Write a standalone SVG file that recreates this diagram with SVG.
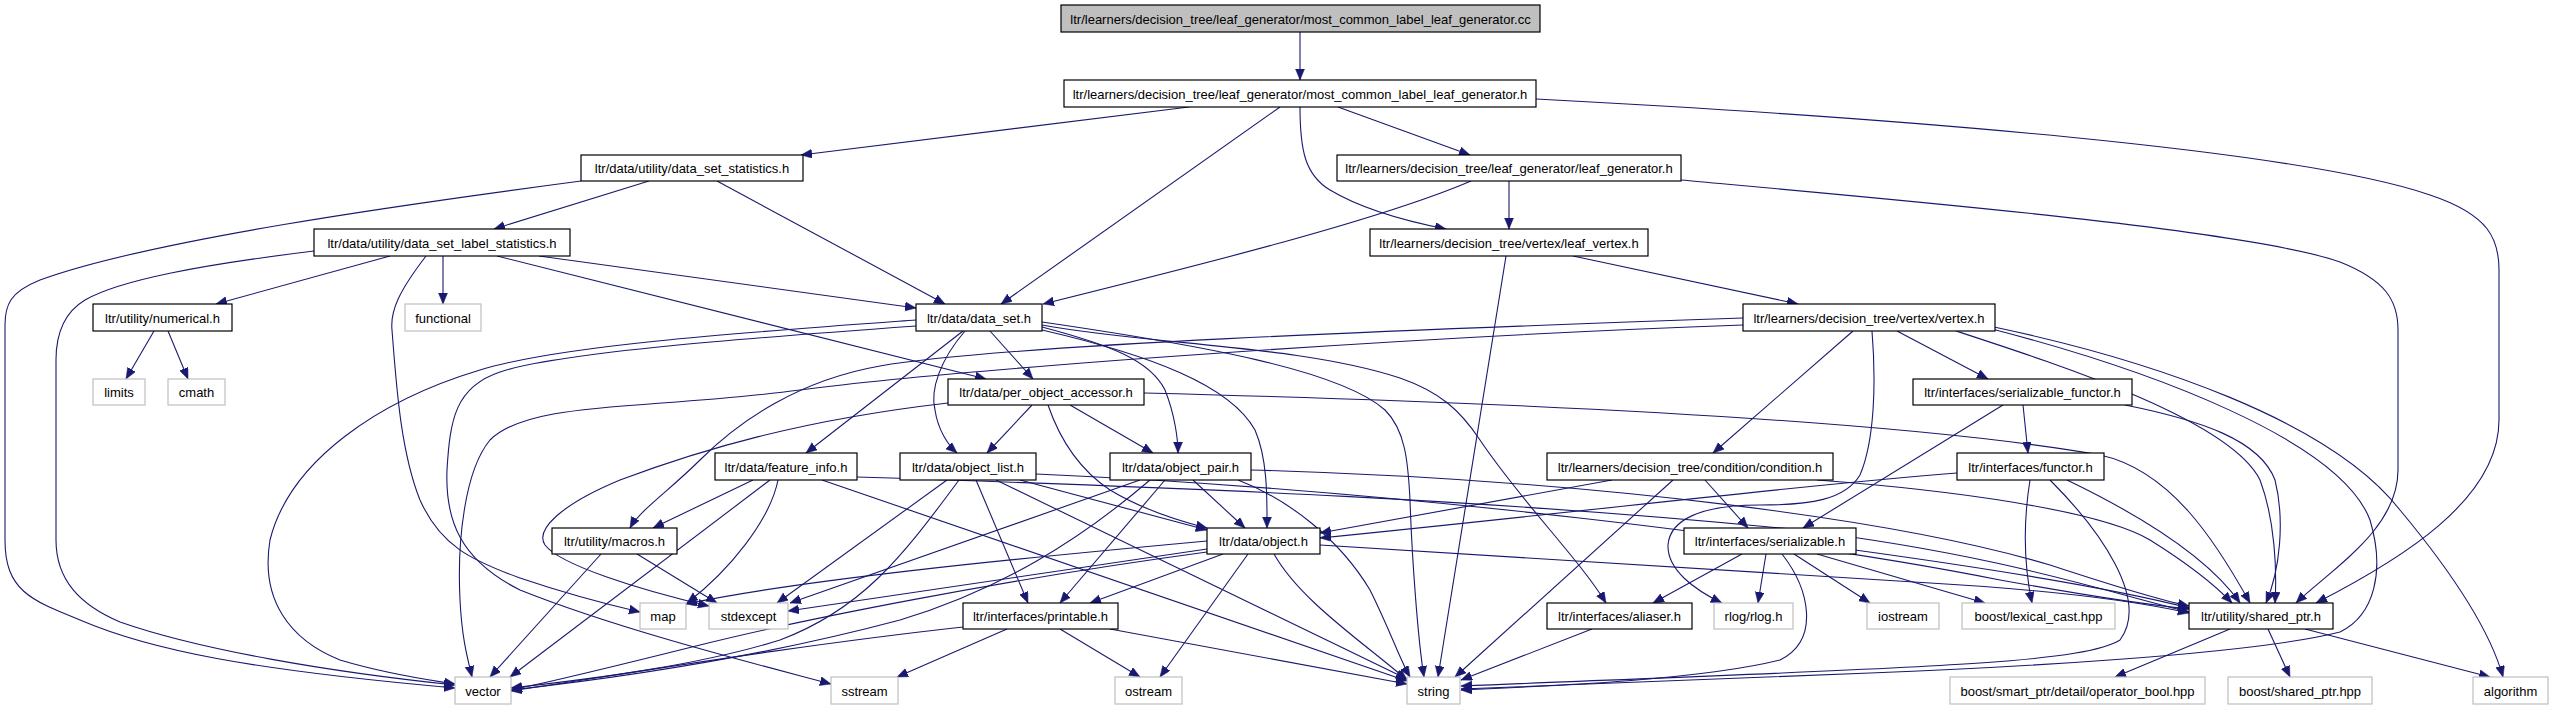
<svg xmlns="http://www.w3.org/2000/svg" width="2553" height="709" viewBox="0 0 2553 709">
<style>
.n rect{fill:#fff;stroke:#000;stroke-width:1.2}
.x rect{fill:#fff;stroke:#bfbfbf;stroke-width:1.2}
.r rect{fill:#bfbfbf;stroke:#000;stroke-width:1.2}
text{font-family:"Liberation Sans",Arial,sans-serif;font-size:13px;text-anchor:middle;fill:#000}
#edges path{fill:none;stroke:#191970;stroke-width:1.1;marker-end:url(#arr)}
</style>
<defs>
<marker id="arr" markerUnits="userSpaceOnUse" markerWidth="12" markerHeight="10" refX="11" refY="4.5" orient="auto"><path d="M0,0 L11,4.5 L0,9 z" fill="#191970" stroke="#191970" stroke-width="0.5"/></marker>
</defs>
<rect width="2553" height="709" fill="#fff"/>
<g id="edges">
<path d="M1300,32 L1300,80"/>
<path d="M1189,107 L801,155"/>
<path d="M1280,107 L1001,304"/>
<path d="M1338,107 L1470,155"/>
<path d="M1300,107 C1300,150 1305,175 1330,190 C1360,208 1400,220 1446,229"/>
<path d="M1536,99 C1900,118 2300,150 2430,195 C2490,215 2499,240 2499,270 L2499,420 C2499,500 2400,560 2316,603"/>
<path d="M649,181 L494,229"/>
<path d="M717,181 L945,304"/>
<path d="M581,181 C400,205 150,240 40,280 C10,292 5,305 5,325 L5,540 C5,590 30,600 80,620 C150,650 250,670 455,688"/>
<path d="M1471,181 C1380,220 1200,265 1043,304"/>
<path d="M1509,181 L1509,229"/>
<path d="M1681,180 C1900,200 2250,230 2340,262 C2385,280 2398,300 2398,330 L2398,470 C2398,530 2330,570 2296,603"/>
<path d="M390,256 L216,304"/>
<path d="M443,256 L443,304"/>
<path d="M539,256 L916,308"/>
<path d="M497,256 L986,379"/>
<path d="M426,256 C400,290 390,310 392,330 C396,380 400,450 420,500 C440,545 470,560 520,578 C570,595 610,605 640,612"/>
<path d="M314,251 C200,265 120,280 85,300 C60,315 56,340 56,360 L56,540 C56,580 80,605 120,622 C200,650 330,672 455,685"/>
<path d="M1573,256 L1798,304"/>
<path d="M1506,256 L1438,677"/>
<path d="M154,331 L126,379"/>
<path d="M168,331 L188,379"/>
<path d="M990,331 L1033,379"/>
<path d="M963,331 L806,453"/>
<path d="M965,331 C940,360 930,390 935,410 C938,430 948,445 957,453"/>
<path d="M1042,327 C1110,345 1150,360 1165,390 C1175,415 1178,440 1178,453"/>
<path d="M1042,330 C1150,355 1230,385 1255,430 C1268,460 1267,500 1267,528"/>
<path d="M1042,322 C1200,345 1340,370 1385,410 C1405,430 1408,460 1410,500 C1412,560 1418,640 1424,677"/>
<path d="M1042,325 C1150,345 1300,345 1400,378 C1440,392 1460,410 1480,440 C1520,500 1580,560 1606,603"/>
<path d="M916,320 C750,332 560,345 480,370 C380,400 290,460 270,540 C260,600 290,640 340,660 C390,675 430,680 455,684"/>
<path d="M916,326 C750,338 560,352 500,372 C455,387 450,420 447,470 C445,520 460,560 520,590 C620,630 760,665 831,684"/>
<path d="M1743,318 C1400,330 1000,345 880,366 C800,380 740,420 700,460 C670,490 640,510 630,528"/>
<path d="M1743,325 C1400,337 950,370 800,390 C650,410 530,400 490,440 C465,470 457,540 460,600 C462,640 468,660 472,677"/>
<path d="M1853,331 L1713,453"/>
<path d="M1897,331 L1988,379"/>
<path d="M1872,331 C1876,380 1875,440 1860,475 C1845,500 1810,505 1760,505 C1700,505 1670,520 1668,545 C1667,570 1695,590 1722,603"/>
<path d="M1956,331 C2060,365 2230,420 2260,480 C2275,520 2277,570 2275,603"/>
<path d="M1992,329 C2150,370 2340,440 2370,520 C2385,570 2375,615 2340,632 C2250,655 2000,668 1870,673 L1461,689"/>
<path d="M1994,327 C2150,360 2330,420 2400,510 C2450,570 2490,630 2503,677"/>
<path d="M948,403 C800,420 700,450 620,480 C560,505 535,530 545,545 C560,565 640,590 709,606"/>
<path d="M1032,405 L987,453"/>
<path d="M1070,405 L1153,453"/>
<path d="M1048,405 C1060,440 1080,470 1110,490 C1140,508 1175,520 1207,528"/>
<path d="M1144,393 C1500,402 1900,420 2100,455 C2170,470 2215,540 2250,603"/>
<path d="M753,480 L653,528"/>
<path d="M778,480 C770,520 730,570 687,603"/>
<path d="M770,480 L510,677"/>
<path d="M822,480 L1407,681"/>
<path d="M857,477 C1200,488 1500,500 1800,530 C2000,555 2100,590 2189,612"/>
<path d="M947,480 L777,603"/>
<path d="M959,480 C900,560 860,610 780,640 C700,665 600,678 511,688"/>
<path d="M976,480 L1028,603"/>
<path d="M1020,480 L1207,530"/>
<path d="M996,480 L1407,679"/>
<path d="M1036,474 C1400,490 1800,540 2000,580 C2100,598 2150,605 2189,609"/>
<path d="M1193,480 L1245,528"/>
<path d="M1165,480 L1060,603"/>
<path d="M1140,480 L790,603"/>
<path d="M1150,480 C1080,540 1000,590 900,620 C750,660 600,680 511,690"/>
<path d="M1238,480 C1290,500 1340,540 1370,590 C1390,630 1400,660 1410,677"/>
<path d="M1251,470 C1600,480 1900,520 2050,565 C2120,588 2160,600 2189,606"/>
<path d="M1612,480 L1320,533"/>
<path d="M1673,480 L1455,677"/>
<path d="M1705,480 L1748,528"/>
<path d="M1817,480 C1950,490 2100,510 2150,540 C2190,565 2215,585 2232,603"/>
<path d="M1957,473 C1800,485 1600,510 1320,538"/>
<path d="M2030,480 C2022,530 2025,570 2032,603"/>
<path d="M2050,480 C2100,530 2150,600 2120,640 C2080,665 1900,668 1461,686"/>
<path d="M2067,480 C2150,520 2210,560 2240,603"/>
<path d="M2023,405 L2028,453"/>
<path d="M2003,405 L1803,528"/>
<path d="M2125,405 C2200,420 2260,440 2275,480 C2285,520 2280,570 2266,603"/>
<path d="M1223,554 L1090,603"/>
<path d="M1248,554 L1160,677"/>
<path d="M1274,554 C1300,600 1360,640 1407,680"/>
<path d="M1320,545 L1930,583 C2050,590 2130,600 2189,613"/>
<path d="M1207,549 L788,611"/>
<path d="M1207,541 C1000,560 800,580 686,604"/>
<path d="M1207,552 C1000,580 800,620 700,645 C620,665 560,680 511,690"/>
<path d="M1007,629 L897,677"/>
<path d="M1060,629 L1140,677"/>
<path d="M1110,629 L1407,684"/>
<path d="M963,627 C800,645 650,670 511,691"/>
<path d="M1742,554 L1653,603"/>
<path d="M1766,554 L1758,603"/>
<path d="M1782,554 C1810,590 1820,640 1780,660 C1700,680 1550,686 1461,690"/>
<path d="M1794,554 L1870,603"/>
<path d="M1817,554 L1985,603"/>
<path d="M1855,550 C2000,570 2120,590 2189,608"/>
<path d="M1592,629 L1461,680"/>
<path d="M601,554 L490,677"/>
<path d="M637,554 L717,603"/>
<path d="M2230,629 L2115,677"/>
<path d="M2268,629 L2290,677"/>
<path d="M2305,629 L2490,677"/>
</g>
<g id="n_cc" class="r"><rect x="1061" y="5" width="479" height="27"/><text x="1300.5" y="23.5">ltr/learners/decision_tree/leaf_generator/most_common_label_leaf_generator.cc</text></g>
<g id="n_mcl" class="n"><rect x="1064" y="80" width="472" height="27"/><text x="1300" y="98.5">ltr/learners/decision_tree/leaf_generator/most_common_label_leaf_generator.h</text></g>
<g id="n_dss" class="n"><rect x="581" y="155" width="222" height="26"/><text x="692" y="173">ltr/data/utility/data_set_statistics.h</text></g>
<g id="n_lg" class="n"><rect x="1337" y="155" width="344" height="26"/><text x="1509" y="173">ltr/learners/decision_tree/leaf_generator/leaf_generator.h</text></g>
<g id="n_dsls" class="n"><rect x="314" y="229" width="256" height="27"/><text x="442" y="247.5">ltr/data/utility/data_set_label_statistics.h</text></g>
<g id="n_lv" class="n"><rect x="1370" y="229" width="278" height="27"/><text x="1509" y="247.5">ltr/learners/decision_tree/vertex/leaf_vertex.h</text></g>
<g id="n_num" class="n"><rect x="93" y="304" width="139" height="27"/><text x="162.5" y="322.5">ltr/utility/numerical.h</text></g>
<g id="n_functional" class="x"><rect x="405" y="304" width="76" height="27"/><text x="443" y="322.5">functional</text></g>
<g id="n_ds" class="n"><rect x="916" y="304" width="126" height="27"/><text x="979" y="322.5">ltr/data/data_set.h</text></g>
<g id="n_vertex" class="n"><rect x="1743" y="304" width="252" height="27"/><text x="1869" y="322.5">ltr/learners/decision_tree/vertex/vertex.h</text></g>
<g id="n_limits" class="x"><rect x="93" y="379" width="52" height="26"/><text x="119" y="397">limits</text></g>
<g id="n_cmath" class="x"><rect x="168" y="379" width="57" height="26"/><text x="196.5" y="397">cmath</text></g>
<g id="n_poa" class="n"><rect x="948" y="379" width="196" height="26"/><text x="1046" y="397">ltr/data/per_object_accessor.h</text></g>
<g id="n_sf" class="n"><rect x="1913" y="379" width="219" height="26"/><text x="2022.5" y="397">ltr/interfaces/serializable_functor.h</text></g>
<g id="n_fi" class="n"><rect x="715" y="453" width="142" height="27"/><text x="786" y="471.5">ltr/data/feature_info.h</text></g>
<g id="n_ol" class="n"><rect x="900" y="453" width="136" height="27"/><text x="968" y="471.5">ltr/data/object_list.h</text></g>
<g id="n_op" class="n"><rect x="1110" y="453" width="141" height="27"/><text x="1180.5" y="471.5">ltr/data/object_pair.h</text></g>
<g id="n_cond" class="n"><rect x="1547" y="453" width="286" height="27"/><text x="1690" y="471.5">ltr/learners/decision_tree/condition/condition.h</text></g>
<g id="n_functor" class="n"><rect x="1957" y="453" width="147" height="27"/><text x="2030.5" y="471.5">ltr/interfaces/functor.h</text></g>
<g id="n_macros" class="n"><rect x="552" y="528" width="125" height="26"/><text x="614.5" y="546">ltr/utility/macros.h</text></g>
<g id="n_obj" class="n"><rect x="1207" y="528" width="113" height="26"/><text x="1263.5" y="546">ltr/data/object.h</text></g>
<g id="n_ser" class="n"><rect x="1684" y="528" width="172" height="26"/><text x="1770" y="546">ltr/interfaces/serializable.h</text></g>
<g id="n_map" class="x"><rect x="640" y="603" width="46" height="26"/><text x="663" y="621">map</text></g>
<g id="n_stdexcept" class="x"><rect x="709" y="603" width="79" height="26"/><text x="748.5" y="621">stdexcept</text></g>
<g id="n_printable" class="n"><rect x="963" y="603" width="155" height="26"/><text x="1040.5" y="621">ltr/interfaces/printable.h</text></g>
<g id="n_aliaser" class="n"><rect x="1547" y="603" width="145" height="26"/><text x="1619.5" y="621">ltr/interfaces/aliaser.h</text></g>
<g id="n_rlog" class="x"><rect x="1714" y="603" width="79" height="26"/><text x="1753.5" y="621">rlog/rlog.h</text></g>
<g id="n_iostream" class="x"><rect x="1867" y="603" width="72" height="26"/><text x="1903" y="621">iostream</text></g>
<g id="n_lexcast" class="x"><rect x="1962" y="603" width="153" height="26"/><text x="2038.5" y="621">boost/lexical_cast.hpp</text></g>
<g id="n_sp" class="n"><rect x="2189" y="603" width="144" height="26"/><text x="2261" y="621">ltr/utility/shared_ptr.h</text></g>
<g id="n_vector" class="x"><rect x="455" y="677" width="56" height="27"/><text x="483" y="695.5">vector</text></g>
<g id="n_sstream" class="x"><rect x="831" y="677" width="67" height="27"/><text x="864.5" y="695.5">sstream</text></g>
<g id="n_ostream" class="x"><rect x="1115" y="677" width="67" height="27"/><text x="1148.5" y="695.5">ostream</text></g>
<g id="n_string" class="x"><rect x="1407" y="677" width="53" height="27"/><text x="1433.5" y="695.5">string</text></g>
<g id="n_opbool" class="x"><rect x="1950" y="677" width="255" height="27"/><text x="2077.5" y="695.5">boost/smart_ptr/detail/operator_bool.hpp</text></g>
<g id="n_bsp" class="x"><rect x="2228" y="677" width="144" height="27"/><text x="2300" y="695.5">boost/shared_ptr.hpp</text></g>
<g id="n_algorithm" class="x"><rect x="2473" y="677" width="75" height="27"/><text x="2510.5" y="695.5">algorithm</text></g>
</svg>
